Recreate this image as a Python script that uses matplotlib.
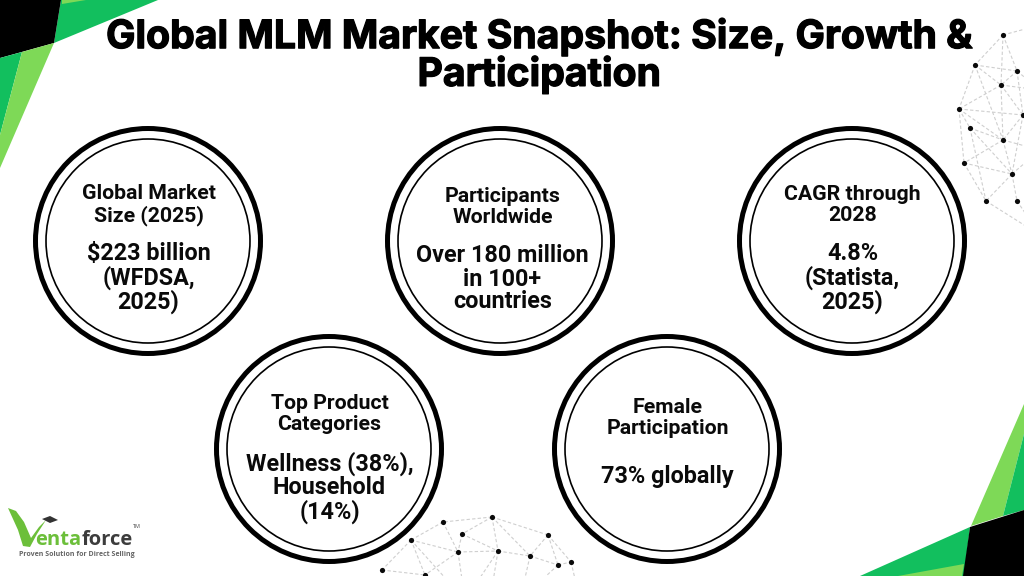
import matplotlib
matplotlib.use("Agg")
import matplotlib.pyplot as plt
from matplotlib.patches import Circle, Polygon
import matplotlib.patheffects as pe

W, H = 1024, 576
TITLE = "Global MLM Market Snapshot: Size, Growth &\nParticipation"

# circle cards: centre x, centre y, heading, value
card_x = [148, 500, 852, 329, 667]
card_y = [241, 241, 241, 449, 449]
text_x = [148.5, 502.5, 852.5, 329.5, 667.5]
card_heads = ["Global Market\nSize (2025)", "Participants\nWorldwide", "CAGR through\n2028",
              "Top Product\nCategories", "Female\nParticipation"]
head_y = [205, 207, 205, 414, 418]
card_vals = ["$223 billion\n(WFDSA,\n2025)", "Over 180 million\nin 100+\ncountries", "4.8%\n(Statista,\n2025)",
             "Wellness (38%),\nHousehold\n(14%)", "73% globally"]
val_y = [278, 279, 278, 488, 476.5]

GREEN = "#12bf5e"
LIGHT = "#7ed957"
BLACK = "#000000"
tl_polys = [
    (GREEN, [(61, 0), (158, 0), (54, 43)]),
    (LIGHT, [(62, 0), (86, 0), (62, 4)]),
    (BLACK, [(0, 0), (61, 0), (54, 43), (0, 58)]),
    (GREEN, [(0, 58), (22, 52), (0, 135)]),
    (LIGHT, [(22, 52), (54, 43), (0, 168), (0, 135)]),
]
br_polys = [
    (GREEN, [(860, 576), (970, 527), (964, 576)]),
    (LIGHT, [(898, 576), (964, 564), (962, 576)]),
    (LIGHT, [(971, 526), (1024, 404), (1024, 434), (1003, 516)]),
    (GREEN, [(1003, 516), (1024, 434), (1024, 510)]),
    (BLACK, [(970, 527), (1024, 510), (1024, 576), (963, 576)]),
]
logo_v = [(8, 508), (16, 511), (24, 522), (31, 538), (39, 527), (46, 520), (37, 534), (30, 547),
          (23, 546), (18, 530)]
logo_cap = [(42, 519), (50, 516), (58, 520), (50, 523)]

right_nodes = [(1003, 35), (975, 65), (1017, 71), (1001, 85), (959, 109), (1023, 115),
               (970, 128), (1003, 140), (964, 163), (1012, 174), (986, 201), (1017, 201),
               (1040, 25), (1040, 90), (1040, 150), (1040, 235)]
right_edges = [(0, 1), (0, 2), (0, 3), (1, 2), (1, 3), (1, 4), (1, 7), (2, 3), (3, 4), (3, 5), (3, 7),
               (4, 5), (4, 6), (4, 8), (4, 7), (5, 7), (6, 7), (6, 9), (6, 10), (7, 9), (7, 8), (8, 9),
               (8, 10), (9, 10), (9, 11), (5, 9), (2, 5), (0, 12), (2, 13), (3, 13), (7, 14), (9, 14),
               (10, 15), (11, 15)]
bottom_nodes = [(492, 517), (443, 522), (462, 534), (411, 540), (458, 552), (498, 551),
                (548, 535), (530, 556), (558, 565), (571, 562), (382, 570), (425, 575),
                (465, 600), (490, 600), (520, 600), (580, 600)]
bottom_edges = [(0, 1), (0, 2), (0, 5), (0, 6), (0, 7), (1, 3), (1, 4), (2, 4), (2, 5), (3, 4), (3, 10),
                (3, 11), (4, 5), (4, 11), (5, 7), (6, 7), (6, 8), (7, 8), (8, 9), (10, 11), (6, 9),
                (4, 12), (5, 12), (5, 13), (7, 14), (8, 14), (9, 15), (3, 12)]

fig = plt.figure(figsize=(W / 100, H / 100), dpi=100, facecolor="white")
ax = fig.add_axes([0, 0, 1, 1])
ax.set_xlim(0, W)
ax.set_ylim(H, 0)
ax.axis("off")

for col, pts in tl_polys + br_polys:
    ax.add_patch(Polygon(pts, closed=True, fc=col, ec="none", zorder=1))

for nodes, edges in [(right_nodes, right_edges), (bottom_nodes, bottom_edges)]:
    for a, b in edges:
        ax.plot([nodes[a][0], nodes[b][0]], [nodes[a][1], nodes[b][1]], color="#cfcfcf",
                lw=0.8, ls=(0, (3, 2)), zorder=2)
    ax.scatter([n[0] for n in nodes], [n[1] for n in nodes], s=14, color="#0a0a0a", zorder=3, linewidths=0)

ax.text(539, 55.5, TITLE, ha="center", va="center", fontsize=28.2, fontweight="bold",
        family="Inter", color="black", linespacing=0.96, zorder=5,
        path_effects=[pe.withStroke(linewidth=0.9, foreground="black")])

for x, y, tx, hd, hy, val, vy in zip(card_x, card_y, text_x, card_heads, head_y, card_vals, val_y):
    ax.add_patch(Circle((x, y), 112.5, fc="white", ec="black", lw=3.6, zorder=4))
    ax.add_patch(Circle((x, y), 102, fc="none", ec="black", lw=1.2, zorder=4))
    ax.text(tx, hy, hd, ha="center", va="center", fontsize=15.3, fontweight="bold", family="Roboto",
            color="#0a0a0a", linespacing=1.12, zorder=5)
    ax.text(tx, vy, val, ha="center", va="center", fontsize=16.8, fontweight="bold", family="Roboto",
            color="#0a0a0a", linespacing=1.0, zorder=5)

# logo
ax.add_patch(Polygon(logo_v, closed=True, fc="#6cbf3a", ec="none", zorder=5))
ax.add_patch(Polygon(logo_cap, closed=True, fc="#333333", ec="none", zorder=5))
ax.text(35, 540, "enta", fontsize=14.5, fontweight="bold", family="Open Sans", color="#6cbf3a", ha="left", va="center", zorder=5)
ax.text(82, 540, "force", fontsize=14.5, fontweight="bold", family="Open Sans", color="#3c3c3c", ha="left", va="center", zorder=5)
ax.text(137, 526, "TM", fontsize=4, family="Open Sans", color="#444444", ha="center", va="center", zorder=5)
ax.text(77, 554.5, "Proven Solution for Direct Selling", fontsize=5, fontweight="bold", family="Open Sans",
        color="#666666", ha="center", va="center", zorder=5)

fig.savefig("out.png", dpi=100, facecolor="white")
